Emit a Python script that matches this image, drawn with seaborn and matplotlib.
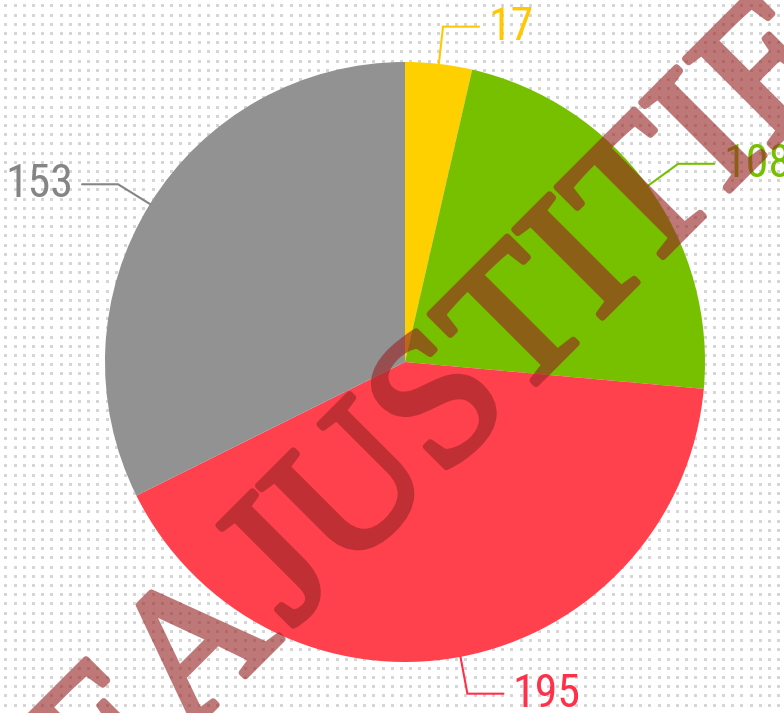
import numpy as np
import matplotlib
matplotlib.use("Agg")
import matplotlib.pyplot as plt
from matplotlib import font_manager, patheffects
import seaborn as sns

# --- Données ---
values = [17, 108, 195, 153]
labels = ["17", "108", "195", "153"]
colors = ["#FFD000", "#76C000", "#FF404D", "#929292"]
label_colors = ["#FFC800", "#76C000", "#FF3048", "#858585"]
watermark_left = "EA"
watermark_right = "JUSTITIE"

sns.set_theme(style="white")

installed = {f.name for f in font_manager.fontManager.ttflist}
label_font = next((f for f in ["Liberation Sans Narrow", "Roboto Condensed", "DejaVu Sans"]
                   if f in installed), "DejaVu Sans")

W, H = 784, 713
fig = plt.figure(figsize=(W / 100, H / 100), dpi=100)
fig.patch.set_facecolor("white")

# --- Fond à points ---
bg = fig.add_axes([0, 0, 1, 1], zorder=0)
yy, xx = np.mgrid[0:H, 0:W]
step = 9.2
dots = (((xx - 4) % step) < 3) & (((yy - 4) % step) < 3)
img = np.ones((H, W, 3))
img[dots] = 0.84
bg.imshow(img, interpolation="nearest", aspect="auto", extent=(0, W, H, 0))
bg.axis("off")

# --- Camembert ---
ax = fig.add_axes([0, 0, 1, 1], zorder=1)
ax.patch.set_alpha(0)
cx, cy, R = 405, 362, 300
wedges, _ = ax.pie(values, colors=colors, startangle=90, counterclock=False,
                   radius=1, wedgeprops=dict(linewidth=0))
ax.set_xlim(-cx / R, (W - cx) / R)
ax.set_ylim(-(H - cy) / R, cy / R)
ax.set_aspect("auto")
ax.axis("off")

for w, lab, col in zip(wedges, labels, label_colors):
    a = np.deg2rad((w.theta1 + w.theta2) / 2)
    c, s = np.cos(a), np.sin(a)
    side = 1 if c >= 0 else -1
    x1, y1 = 1.125 * c, 1.125 * s
    x2 = x1 + side * 0.12
    ax.plot([c, x1, x2], [s, y1, y1], color=col, lw=1.5, solid_joinstyle="miter")
    ax.text(x2 + side * 0.03, y1, lab, color=col, fontsize=33, family=label_font,
            ha="left" if side > 0 else "right", va="center")


# --- Filigrane (transparence de groupe pour pouvoir l'épaissir) ---
def fade(im, dpi):
    out = im.copy()
    out[..., 3] *= 0.62
    return out, 0, 0


wm_col = "#992525"
rot = 45
wm = dict(rotation=rot, rotation_mode="anchor", fontsize=137, family="Liberation Serif",
          color=wm_col, zorder=5, va="baseline",
          path_effects=[patheffects.withStroke(linewidth=4.5, foreground=wm_col)])
t1 = ax.text(-0.405, -0.92, watermark_left, ha="right", **wm)
t2 = ax.text(-0.38, -0.89, watermark_right, ha="left", **wm)
for t in (t1, t2):
    t.set_agg_filter(fade)

fig.savefig("out.png", dpi=100)
